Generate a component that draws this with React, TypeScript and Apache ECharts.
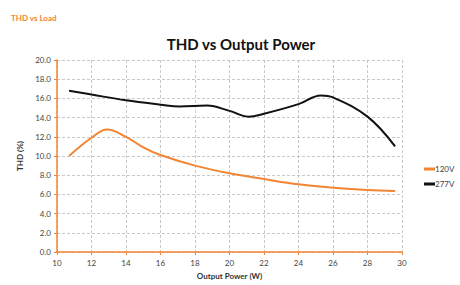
import React, { useEffect, useRef } from "react";
import * as echarts from "echarts";

const x120 = [10.7, 12, 12.9, 14, 15, 16, 18, 20, 22, 24, 26, 28, 29.6];
const y120 = [10.0, 11.9, 12.75, 12.0, 10.9, 10.1, 9.0, 8.2, 7.6, 7.05, 6.7, 6.45, 6.35];
const x277 = [10.7, 12, 14, 16, 17.1, 18.7, 20, 21.1, 22, 24, 25.3, 26, 28, 29.6];
const y277 = [16.8, 16.4, 15.8, 15.35, 15.15, 15.25, 14.7, 14.1, 14.4, 15.4, 16.3, 16.1, 14.1, 11.0];

const FONT = "Lato, 'Open Sans', sans-serif";
const ORANGE = "#F28433";

export default function App() {
  const ref = useRef<HTMLDivElement>(null);
  useEffect(() => {
    const chart = echarts.init(ref.current!, undefined, { renderer: "svg" });
    chart.setOption({
      animation: false,
      backgroundColor: "#fff",
      textStyle: { fontFamily: FONT },
      title: [
        {
          text: "THD vs Load",
          left: 6,
          top: 9,
          textStyle: { fontSize: 8, fontWeight: "bold", color: ORANGE, fontFamily: FONT },
        },
        {
          text: "THD vs Output Power",
          left: 236,
          textAlign: "center",
          top: 31,
          textStyle: { fontSize: 15, fontWeight: "bold", color: "#111", fontFamily: FONT },
        },
      ],
      legend: {
        orient: "vertical",
        left: 419,
        top: 160,
        itemGap: 7,
        itemWidth: 11,
        itemHeight: 3,
        icon: "rect",
        textStyle: { fontSize: 8, color: "#444", padding: [0, 0, 0, -5], fontFamily: FONT },
        data: ["120V", "277V"],
      },
      grid: { left: 57, right: 58, top: 60, bottom: 28, containLabel: false },
      xAxis: {
        type: "value",
        min: 10,
        max: 30,
        interval: 2,
        name: "Output Power (W)",
        nameLocation: "middle",
        nameGap: 20,
        nameTextStyle: { fontSize: 8, fontWeight: "bold", color: "#333", fontFamily: FONT },
        axisLine: { lineStyle: { color: ORANGE, width: 1.5 } },
        axisTick: { show: true, length: 3, lineStyle: { color: ORANGE } },
        axisLabel: { fontSize: 8, color: "#444", margin: 7, fontFamily: FONT },
        splitLine: { show: true, lineStyle: { color: "#bbb", type: [3, 2], width: 0.8 } },
      },
      yAxis: {
        type: "value",
        min: 0,
        max: 20,
        interval: 2,
        name: "THD (%)",
        nameLocation: "middle",
        nameGap: 30,
        nameRotate: 90,
        nameTextStyle: { fontSize: 8, fontWeight: "bold", color: "#333", fontFamily: FONT },
        axisLine: { show: true, lineStyle: { color: ORANGE, width: 1.5 } },
        axisTick: { show: true, length: 3, lineStyle: { color: ORANGE } },
        axisLabel: {
          fontSize: 8,
          color: "#444",
          margin: 6,
          fontFamily: FONT,
          formatter: (v: number) => v.toFixed(1),
        },
        splitLine: { show: true, lineStyle: { color: "#bbb", type: [3, 2], width: 0.8 } },
      },
      series: [
        {
          name: "120V",
          type: "line",
          smooth: 0.4,
          showSymbol: false,
          data: x120.map((x, i) => [x, y120[i]]),
          lineStyle: { color: ORANGE, width: 2 },
          itemStyle: { color: ORANGE },
        },
        {
          name: "277V",
          type: "line",
          smooth: 0.4,
          showSymbol: false,
          data: x277.map((x, i) => [x, y277[i]]),
          lineStyle: { color: "#111", width: 2 },
          itemStyle: { color: "#111" },
        },
      ],
    });
    return () => chart.dispose();
  }, []);
  return <div ref={ref} style={{ width: 460, height: 285, position: "absolute", left: 0, top: 0 }} />;
}
